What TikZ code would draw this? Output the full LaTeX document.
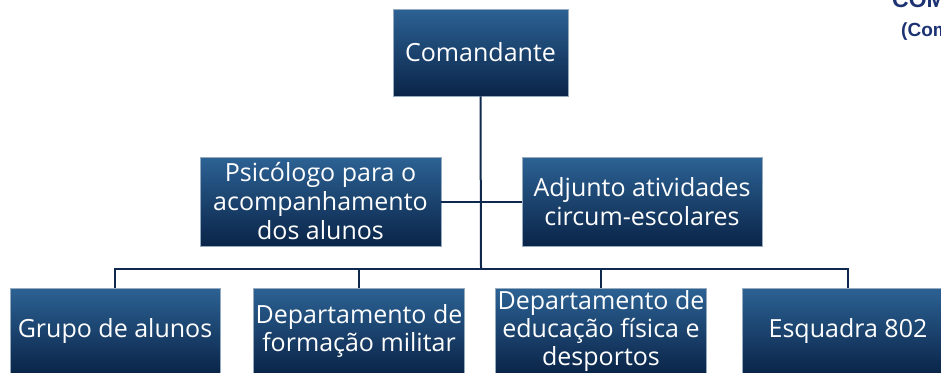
\documentclass[tikz,border=0pt]{standalone}
\usepackage{fontspec}
\setmainfont{Open Sans}
\newfontfamily\headfont{Liberation Sans}
\definecolor{boxtop}{RGB}{44,98,148}
\definecolor{boxbot}{RGB}{10,36,72}
\definecolor{boxedge}{RGB}{150,170,192}
\definecolor{linecol}{RGB}{15,40,78}
\definecolor{headcol}{RGB}{28,50,115}
\begin{document}
\begin{tikzpicture}[x=1pt,y=-1pt,
  orgbox/.style={rectangle, top color=boxtop, bottom color=boxbot, draw=boxedge, line width=0.8pt,
    text=white, align=center, inner sep=2pt,
    font=\fontsize{25}{29}\selectfont},
  lowbox/.style={orgbox, minimum height=86pt, font=\fontsize{25}{28}\selectfont},
  conn/.style={draw=linecol, line width=2pt}]
\useasboundingbox (0,0) rectangle (941,372);
\node[orgbox, minimum width=175pt, minimum height=87pt] (cmd) at (480.5,52.5) {Comandante};
\node[orgbox, minimum width=241pt, minimum height=89pt] (psi) at (320.5,201.5) {Psicólogo para o\\acompanhamento\\dos alunos};
\node[orgbox, minimum width=240pt, minimum height=89pt] (adj) at (642,201.5) {Adjunto atividades\\circum-escolares};
\node[lowbox, minimum width=210pt] (b1) at (115,331) {Grupo de alunos};
\node[lowbox, minimum width=208pt] (b2) at (359,331) {Departamento de\\formação militar};
\node[lowbox, minimum width=208pt] (b3) at (601,331) {Departamento de\\educação física e\\desportos};
\node[lowbox, minimum width=212pt] (b4) at (848,331) {Esquadra 802};
\coordinate (bus) at (481,269);
\draw[conn] (cmd.south) -- (bus);
\draw[conn] (psi.east) -- (adj.west);
\draw[conn] (b1.north) |- (b4.north |- bus) -- (b4.north);
\draw[conn] (b2.north) -- (b2.north |- bus);
\draw[conn] (b3.north) -- (b3.north |- bus);
\node[anchor=base west, inner sep=0pt, text=headcol, font=\headfont\bfseries\fontsize{23}{26}\selectfont] (h1) at (892,7) {COMANDO};
\node[anchor=base west, inner sep=0pt, text=headcol, font=\headfont\bfseries\fontsize{19}{22}\selectfont] (h2) at (901,36) {(Comando};
\end{tikzpicture}
\end{document}
